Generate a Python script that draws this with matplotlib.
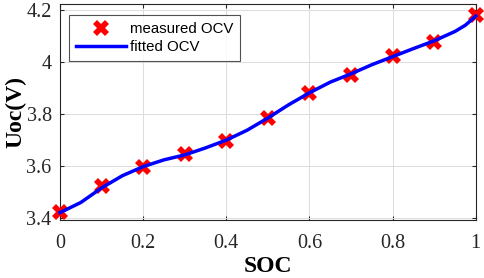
import matplotlib
matplotlib.use("Agg")
import matplotlib.pyplot as plt

soc_measured = [0.0, 0.1, 0.2, 0.3, 0.4, 0.5, 0.6, 0.7, 0.8, 0.9, 1.0]
ocv_measured = [3.424, 3.521, 3.597, 3.646, 3.694, 3.784, 3.881, 3.949, 4.021, 4.075, 4.182]

soc_fitted = [0.0, 0.05, 0.1, 0.15, 0.2, 0.25, 0.3, 0.35, 0.4, 0.45, 0.5, 0.55,
              0.6, 0.65, 0.7, 0.75, 0.8, 0.85, 0.9, 0.95, 0.975, 1.0]
ocv_fitted = [3.420, 3.459, 3.515, 3.562, 3.597, 3.623, 3.642, 3.669, 3.699, 3.737,
              3.784, 3.835, 3.881, 3.922, 3.954, 3.989, 4.020, 4.051, 4.081, 4.117,
              4.141, 4.176]

xticks = [0, 0.2, 0.4, 0.6, 0.8, 1]
xticklabels = ["0", "0.2", "0.4", "0.6", "0.8", "1"]
yticks = [3.4, 3.6, 3.8, 4.0, 4.2]
yticklabels = ["3.4", "3.6", "3.8", "4", "4.2"]

fig = plt.figure(figsize=(4.84, 2.78), dpi=100)
ax = fig.add_axes([0.124, 0.209, 0.859, 0.777])

ax.plot(soc_measured, ocv_measured, linestyle="none", marker="X", color="red",
        markersize=11, markeredgewidth=0, label="measured OCV", zorder=3, clip_on=False)
ax.plot(soc_fitted, ocv_fitted, color="blue", linewidth=2.5, label="fitted OCV",
        zorder=4, clip_on=False)

ax.set_xlim(0, 1)
ax.set_ylim(3.392, 4.223)
ax.set_xticks(xticks)
ax.set_xticklabels(xticklabels)
ax.set_yticks(yticks)
ax.set_yticklabels(yticklabels)

for lab in ax.get_xticklabels() + ax.get_yticklabels():
    lab.set_family("Liberation Serif")
    lab.set_fontsize(14.5)

ax.tick_params(direction="in", top=True, right=True, length=3, width=0.8,
               colors="#262626")
ax.tick_params(axis="y", pad=6)
ax.tick_params(axis="x", pad=10)
ax.grid(True, color="#dcdcdc", linewidth=0.7)
ax.set_axisbelow(True)
for s in ax.spines.values():
    s.set_color("#262626")
    s.set_linewidth(0.8)

ax.set_xlabel("SOC", family="Liberation Serif", fontweight="bold", fontsize=17, labelpad=2)
ax.set_ylabel("Uoc(V)", family="Liberation Serif", fontweight="bold", fontsize=17, labelpad=0)

leg = ax.legend(loc="upper left", bbox_to_anchor=(0.0224, 0.948), frameon=True,
                fancybox=False, edgecolor="#262626",
                prop={"family": "Liberation Sans", "size": 10.8},
                handlelength=3.3, borderpad=0.45, labelspacing=0.3, handletextpad=0.3,
                borderaxespad=0.0)
leg.get_frame().set_linewidth(0.8)

fig.savefig("out.png", dpi=100)
